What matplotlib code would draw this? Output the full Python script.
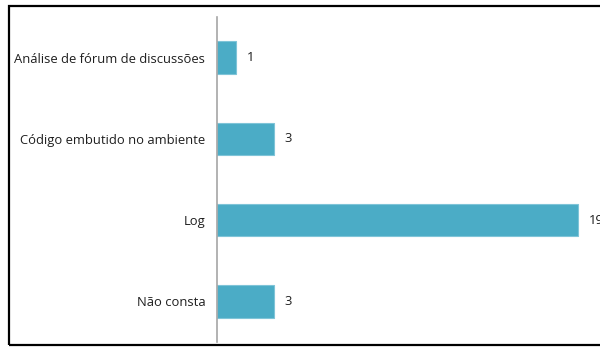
import matplotlib
matplotlib.use("Agg")
import matplotlib.pyplot as plt
from matplotlib.patches import Rectangle

categories = ["Análise de fórum de discussões", "Código embutido no ambiente", "Log", "Não consta"]
values = [1, 3, 19, 3]

W, H = 600, 348
fig = plt.figure(figsize=(W / 100, H / 100), dpi=100)
plt.rcParams['font.family'] = ['Open Sans', 'DejaVu Sans']

left, right, top, bottom = 217, 600, 17, 342
ax = fig.add_axes([left / W, 1 - bottom / H, (right - left) / W, (bottom - top) / H])

ypos = list(range(len(categories)))
bar_color = "#4BACC6"
ax.barh(ypos, values, height=0.4, color=bar_color, edgecolor="#7FC4D8", linewidth=0.8)

ax.set_ylim(len(categories) - 0.5, -0.5)
ax.set_xlim(0, (right - left) / 19)
ax.set_yticks(ypos)
ax.set_yticklabels(categories, fontsize=9.4, color="#1f1f1f")
ax.tick_params(axis="y", length=0, pad=8.5)
ax.set_xticks([])

for s in ["top", "right", "bottom"]:
    ax.spines[s].set_visible(False)
ax.spines["left"].set_color("#A6A6A6")
ax.spines["left"].set_linewidth(1.2)

for y, v in zip(ypos, values):
    ax.annotate(str(v), xy=(v, y), xytext=(7.5, 0), textcoords="offset points",
                ha="left", va="center", fontsize=9.4, color="#1f1f1f",
                annotation_clip=False)

# outer frame of the chart area (open on the right side)
frame = Rectangle((8.5 / W, 1 - 344.5 / H), 620 / W, 339 / H, transform=fig.transFigure,
                  fill=False, edgecolor="black", linewidth=1.6, clip_on=False)
fig.patches.append(frame)

fig.savefig("out.png", dpi=100)
